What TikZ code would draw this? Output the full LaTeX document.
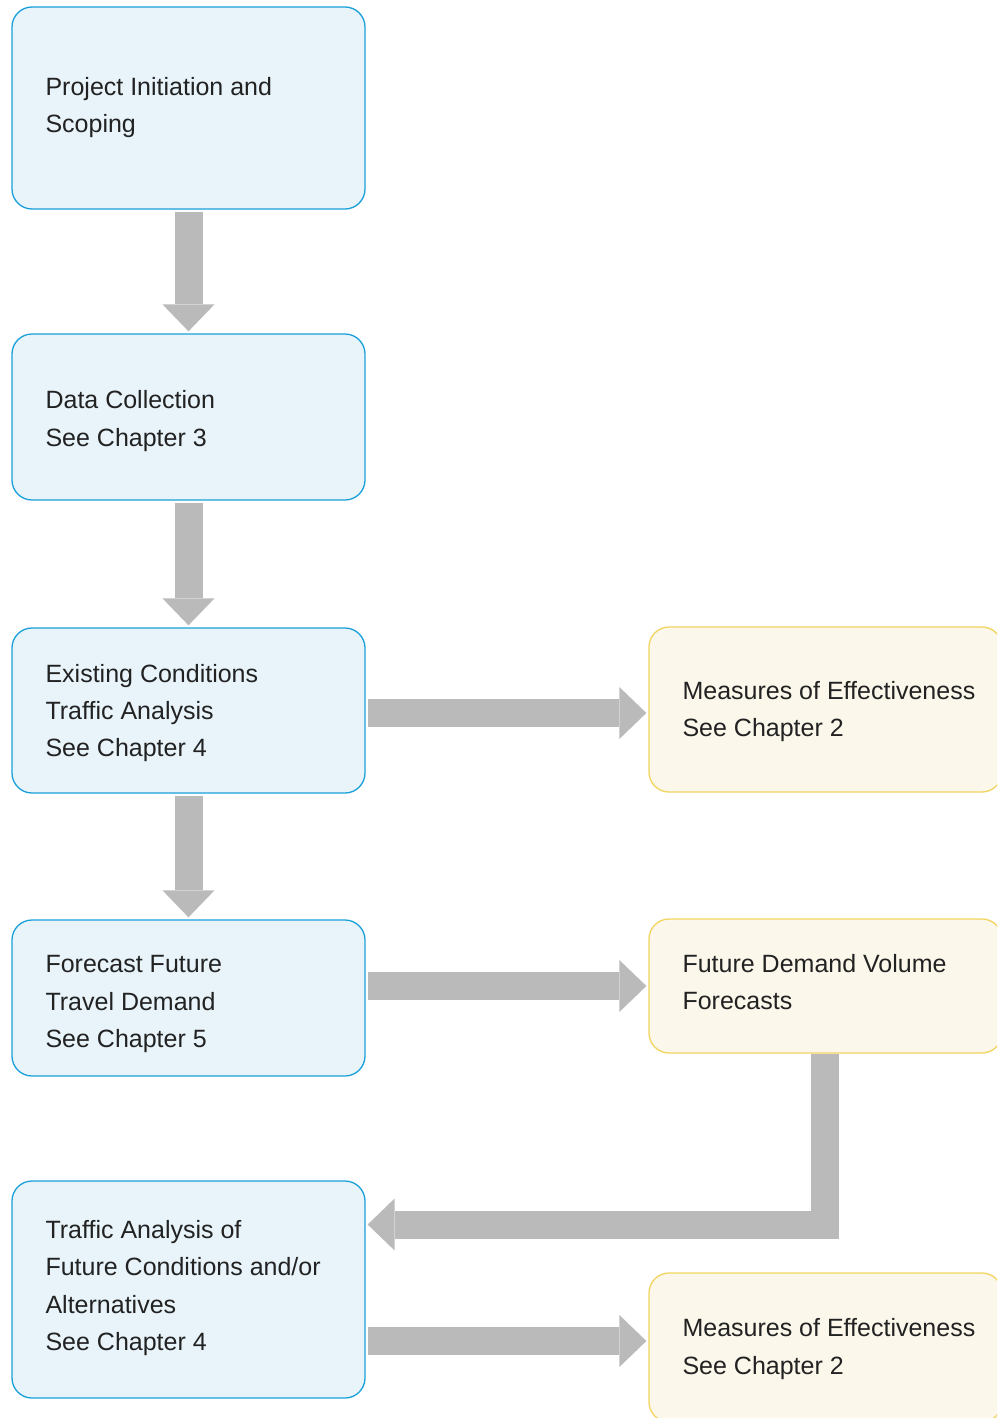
\documentclass[tikz,border=0pt]{standalone}
\usepackage{fontspec}
\setmainfont{Liberation Sans}
\usetikzlibrary{arrows.meta}
\definecolor{bfill}{HTML}{E8F4FA}
\definecolor{bline}{HTML}{1BA1D9}
\definecolor{yfill}{HTML}{FBF7EB}
\definecolor{yline}{HTML}{F3D45E}
\definecolor{agray}{HTML}{BABABA}
\definecolor{tcol}{HTML}{222222}
\begin{document}
\begin{tikzpicture}[x=1pt,y=-1pt,
  bluebox/.style={draw=bline, fill=bfill, line width=1.3pt, rounded corners=20pt, minimum width=353pt, inner sep=0pt},
  yelbox/.style={draw=yline, fill=yfill, line width=1.3pt, rounded corners=20pt, minimum width=353pt, inner sep=0pt},
  txt/.style={anchor=west, align=left, inner sep=0pt, text=tcol, font=\fontsize{25}{37.4}\selectfont},
  fat/.style={draw=agray, line width=28pt, -{Triangle[width=52pt,length=27pt,line width=0pt]}, shorten <=2pt, shorten >=2pt}]
\useasboundingbox (0,0) rectangle (997,1418);
\clip (0,0) rectangle (997,1418);
\fill[white] (0,0) rectangle (997,1418);
% left boxes
\node[bluebox, minimum height=202pt] (b1) at (188.5,108) {};
\node[bluebox, minimum height=166pt] (b2) at (188.5,417) {};
\node[bluebox, minimum height=165pt] (b3) at (188.5,710.5) {};
\node[bluebox, minimum height=156pt] (b4) at (188.5,998) {};
\node[bluebox, minimum height=217pt] (b5) at (188.5,1289.5) {};
% right boxes
\node[yelbox, minimum height=165pt] (m1) at (825.5,709.5) {};
\node[yelbox, minimum height=134pt] (f1) at (825.5,986) {};
\node[yelbox, minimum height=149pt] (m2) at (825.5,1347.5) {};
% texts
\node[txt] (t1) at ([xshift=34pt,yshift=0.5pt]b1.west) {Project Initiation and\\Scoping};
\node[txt] (t2) at ([xshift=34pt,yshift=-4pt]b2.west) {Data Collection\\See Chapter 3};
\node[txt] (t3) at ([xshift=34pt,yshift=-2.5pt]b3.west) {Existing Conditions\\Traffic Analysis\\See Chapter 4};
\node[txt] (t4) at ([xshift=34pt,yshift=-6pt]b4.west) {Forecast Future\\Travel Demand\\See Chapter 5};
\node[txt] (t5) at ([xshift=34pt,yshift=1.5pt]b5.west) {Traffic Analysis of\\Future Conditions and/or\\Alternatives\\See Chapter 4};
\node[txt] (t6) at ([xshift=34pt,yshift=-2pt]m1.west) {Measures of Effectiveness\\See Chapter 2};
\node[txt] (t7) at ([xshift=34pt,yshift=4pt]f1.west) {Future Demand Volume\\Forecasts};
\node[txt] (t8) at ([xshift=34pt,yshift=-1.5pt]m2.west) {Measures of Effectiveness\\See Chapter 2};
% arrows
\draw[fat] (b1.south) -- (b2.north);
\draw[fat] (b2.south) -- (b3.north);
\draw[fat] (b3.south) -- (b4.north);
\coordinate (h1) at (0,713);
\coordinate (h2) at (0,986);
\coordinate (h3) at (0,1341);
\coordinate (elbow) at (825,1224.5);
\draw[fat] (b3.east |- h1) -- (m1.west |- h1);
\draw[fat] (b4.east |- h2) -- (f1.west |- h2);
\draw[fat] (b5.east |- h3) -- (m2.west |- h3);
\draw[fat, shorten <=0pt] (f1.south -| elbow) |- (b5.east |- elbow);
\end{tikzpicture}
\end{document}
